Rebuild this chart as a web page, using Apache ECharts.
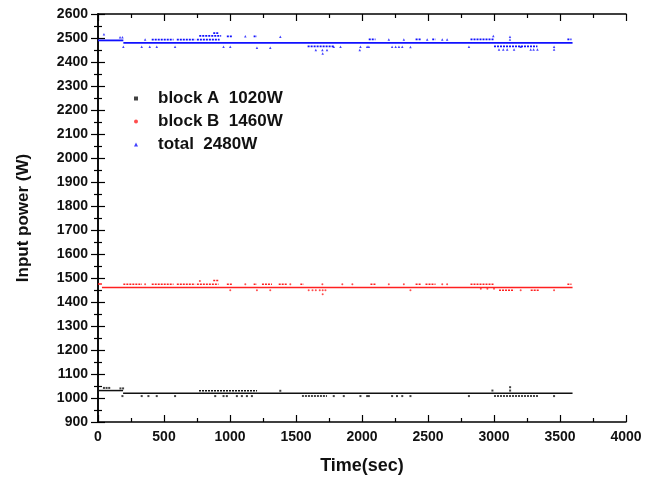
<!DOCTYPE html>
<html>
<head>
<meta charset="utf-8">
<script src="https://cdn.jsdelivr.net/npm/echarts@6/dist/echarts.min.js"></script>
<style>html,body{margin:0;padding:0;background:#fff}#c{width:658px;height:486px}</style>
</head>
<body>
<div id="c"></div>
<script>
// ---- axes ----
const xMin = 0, xMax = 4000, xStep = 500;
const yMin = 900, yMax = 2600, yStep = 100;
const xTitle = 'Time(sec)';
const yTitle = 'Input power (W)';
const seriesNames = ['block A  1020W', 'block B  1460W', 'total  2480W'];

// ---- block A (black) : [t0, t1, W] runs and [t, W] points ----
const blockA_lines = [[0,190,1031],[190,3595,1020]];
const blockA_rows  = [[765,1205,1030],[1545,1735,1008],[3000,3340,1008]];
const blockA_dots  = [[45,1042],[65,1042],[85,1042],[170,1040],[190,1040],[185,1008],[331,1008],[382,1008],[445,1008],[584,1008],[888,1008],[951,1008],[976,1008],[1052,1008],[1090,1008],[1128,1008],[1166,1008],[1381,1030],[1786,1008],[1862,1008],[1988,1008],[2039,1008],[2052,1008],[2228,1008],[2265,1008],[2305,1008],[2367,1008],[2810,1008],[2988,1031],[3122,1045],[3122,1031],[3455,1008]];

// ---- block B (red) ----
const blockB_lines = [[0,30,1475],[30,3595,1460]];
const blockB_rows  = [[192,333,1474],[407,572,1474],[597,736,1474],[749,913,1474],[873,913,1490],[976,1014,1474],[1179,1204,1474],[1242,1318,1474],[1369,1432,1474],[1533,1558,1474],[2064,2102,1474],[2406,2444,1474],[2481,2557,1474],[2822,3000,1474],[3556,3587,1474],[3038,3152,1449],[3278,3341,1449]];
const blockB_dots  = [[357,1474],[772,1488],[1116,1474],[1457,1474],[1700,1474],[1851,1474],[1927,1474],[2203,1474],[2317,1474],[2608,1474],[2645,1474],[1002,1449],[1204,1449],[1305,1449],[1596,1449],[1625,1449],[1650,1449],[1680,1449],[1702,1449],[1723,1449],[1702,1432],[2367,1449],[3202,1449],[3455,1449],[2900,1455],[2950,1455],[3000,1455]];

// ---- total (blue) ----
const total_lines = [[0,192,2490],[192,3595,2480]];
const total_rows  = [[407,572,2493],[597,736,2493],[749,921,2493],[767,933,2509],[873,913,2520],[976,1014,2507],[1179,1204,2507],[2051,2102,2494],[2406,2444,2494],[2532,2557,2494],[2822,3000,2494],[3556,3587,2494],[1588,1790,2465],[3000,3329,2465]];
const total_dots  = [[45,2516],[167,2503],[185,2503],[357,2494],[1116,2507],[1381,2505],[192,2464],[331,2464],[392,2464],[445,2464],[584,2464],[951,2464],[1002,2464],[1204,2459],[1305,2459],[1650,2450],[1700,2450],[1702,2435],[1735,2450],[1786,2464],[1837,2464],[1983,2450],[2052,2464],[1988,2464],[2039,2464],[2228,2464],[2255,2464],[2280,2464],[2305,2464],[2367,2463],[2203,2494],[2317,2494],[2494,2494],[2608,2494],[2645,2494],[2995,2508],[3121,2505],[3121,2494],[2810,2464],[3038,2452],[3070,2452],[3100,2452],[3152,2452],[3202,2464],[3278,2452],[3300,2452],[3329,2452],[3455,2464],[3455,2452]];

const colors = ['#111111', '#ff2020', '#1010ff'];
const FONT = '"Liberation Sans", Arial, sans-serif';

function segSeries(data, color, width, dash) {
  return {
    type: 'custom', data: data, encode: {x: [0, 1], y: 2}, silent: true, z: 2,
    renderItem: function (params, api) {
      const p0 = api.coord([api.value(0), api.value(2)]);
      const p1 = api.coord([api.value(1), api.value(2)]);
      return {type: 'line', shape: {x1: p0[0], y1: p0[1], x2: p1[0], y2: p1[1]},
        style: {stroke: color, lineWidth: width, lineDash: dash || null}};
    }
  };
}
function dotSeries(name, data, color, symbol, size) {
  return {type: 'scatter', name: name, data: data, symbol: symbol, symbolSize: size,
    itemStyle: {color: color}, z: 3, silent: true};
}

const axisCommon = {
  axisLine: {show: true, lineStyle: {color: '#000', width: 1.5}},
  axisTick: {show: true, inside: true, length: 7, lineStyle: {color: '#000', width: 1.2}},
  minorTick: {show: true, splitNumber: 2, length: 4, lineStyle: {color: '#000', width: 1.2}},
  splitLine: {show: false}
};
const plain = v => String(v);

const option = {
  animation: false,
  backgroundColor: '#fff',
  grid: {left: 98, right: 32, top: 14, bottom: 64},
  legend: {
    orient: 'vertical', left: 129, top: 85, itemGap: 6,
    itemWidth: 4, itemHeight: 4,
    data: [
      {name: seriesNames[0], icon: 'rect'},
      {name: seriesNames[1], icon: 'circle'},
      {name: seriesNames[2], icon: 'triangle'}
    ],
    textStyle: {fontFamily: FONT, fontWeight: 'bold', fontSize: 17, color: '#111', padding: [0, 0, 0, 15]}
  },
  xAxis: [
    Object.assign({}, axisCommon, {
      type: 'value', min: xMin, max: xMax, interval: xStep, position: 'bottom',
      name: xTitle, nameLocation: 'middle', nameGap: 35,
      nameTextStyle: {fontFamily: FONT, fontWeight: 'bold', fontSize: 18, color: '#111'},
      axisLabel: {fontFamily: FONT, fontWeight: 'bold', fontSize: 14, color: '#111', margin: 8, formatter: plain}
    }),
    Object.assign({}, axisCommon, {
      type: 'value', min: xMin, max: xMax, interval: xStep, position: 'top',
      axisLabel: {show: false}
    })
  ],
  yAxis: [
    Object.assign({}, axisCommon, {
      type: 'value', min: yMin, max: yMax, interval: yStep, position: 'left',
      name: yTitle, nameLocation: 'middle', nameGap: 66, nameRotate: 90,
      nameTextStyle: {fontFamily: FONT, fontWeight: 'bold', fontSize: 17, color: '#111'},
      axisLabel: {fontFamily: FONT, fontWeight: 'bold', fontSize: 14, color: '#111', margin: 10, formatter: plain}
    }),
    Object.assign({}, axisCommon, {
      type: 'value', min: yMin, max: yMax, interval: yStep, position: 'right',
      axisLabel: {show: false}
    })
  ],
  series: [
    segSeries(blockA_lines, colors[0], 1.5),
    segSeries(blockA_rows, colors[0], 1.5, [2, 1]),
    dotSeries(seriesNames[0], blockA_dots, colors[0], 'rect', 2),
    segSeries(blockB_lines, colors[1], 1.5),
    segSeries(blockB_rows, colors[1], 1.5, [2, 1]),
    dotSeries(seriesNames[1], blockB_dots, colors[1], 'circle', 2),
    segSeries(total_lines, colors[2], 1.8),
    segSeries(total_rows, colors[2], 1.8, [2, 1]),
    dotSeries(seriesNames[2], total_dots, colors[2], 'triangle', 2.5)
  ]
};

const chart = echarts.init(document.getElementById('c'), null, {renderer: 'canvas'});
chart.setOption(option);
</script>
</body>
</html>
